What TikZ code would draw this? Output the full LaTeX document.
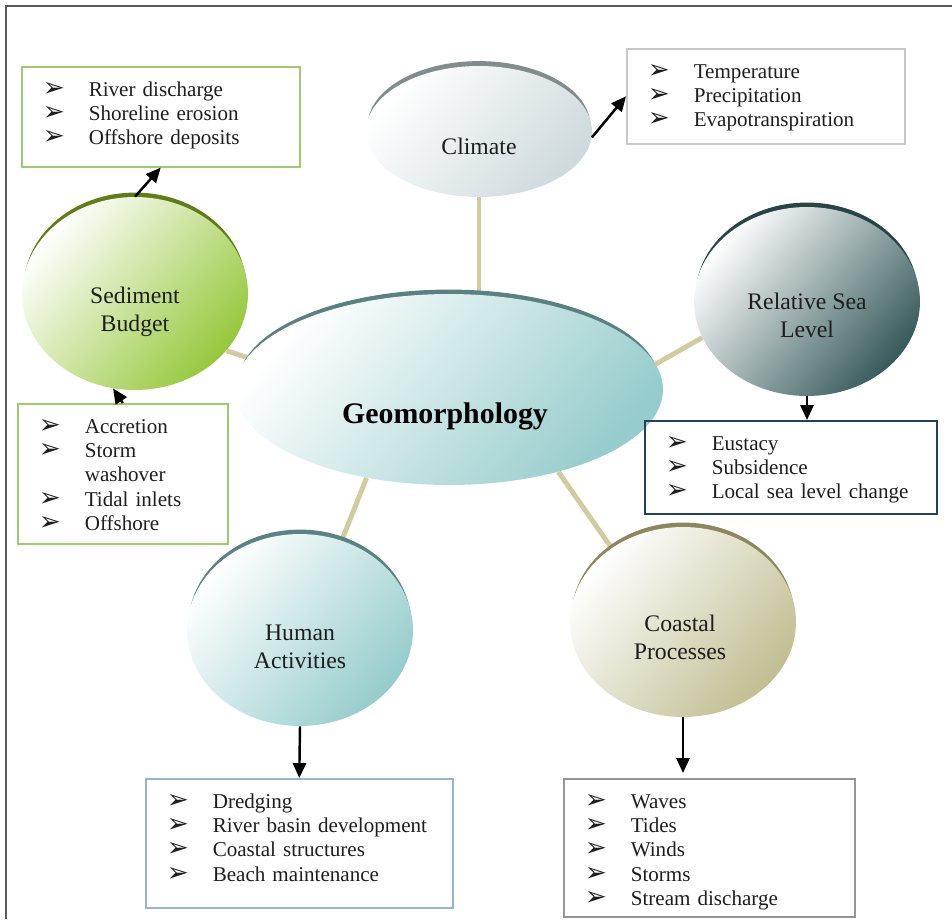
\documentclass[tikz,border=0pt]{standalone}
\usepackage{fontspec}
\setmainfont{Liberation Serif}
\newfontfamily\symfont{DejaVu Sans}
\usepackage{xcolor}
\usepackage{tikz}
\usetikzlibrary{arrows.meta,positioning,calc,shapes.geometric,shadows,backgrounds}
\definecolor{gmtext}{RGB}{30,30,30}
\definecolor{gmframe}{RGB}{90,90,90}
\definecolor{gmspoke}{RGB}{207,204,157}
\definecolor{gmgreen}{RGB}{155,205,110}
\definecolor{gmsilver}{RGB}{200,200,200}
\definecolor{gmnavy}{RGB}{36,63,96}
\definecolor{gmsky}{RGB}{149,179,215}
\definecolor{gmgray}{RGB}{150,150,150}
\definecolor{climfill}{RGB}{206,218,221}
\definecolor{climrim}{RGB}{130,140,140}
\definecolor{sedfill}{RGB}{150,200,60}
\definecolor{sedrim}{RGB}{95,125,20}
\definecolor{geofill}{RGB}{150,204,204}
\definecolor{georim}{RGB}{90,128,128}
\definecolor{rslfill}{RGB}{55,90,90}
\definecolor{rslrim}{RGB}{40,68,68}
\definecolor{humfill}{RGB}{150,204,204}
\definecolor{humrim}{RGB}{90,130,130}
\definecolor{coastfill}{RGB}{192,190,145}
\definecolor{coastrim}{RGB}{140,135,95}
\newcommand{\bul}{\makebox[0.92cm][l]{\symfont\fontsize{15}{12}\selectfont ➢}}
\newcommand{\nobul}{\hspace*{0.92cm}}
\tikzset{
  bub/.style 2 args={ellipse, inner sep=0pt, top color=white, bottom color=#1, shading angle=50,
    general shadow={fill=#2, shadow yshift=3.4pt, shadow scale=0.985}},
  bubtext/.style={font=\fontsize{13.5}{16}\selectfont, text=gmtext, align=center},
  listbox/.style={draw=#1, line width=0.9pt, anchor=north west, inner xsep=0.42cm, inner ysep=0pt,
    align=left, text height=0.6cm, text=gmtext, font=\fontsize{12}{13.7}\selectfont},
  spoke/.style={gmspoke, line width=2.8pt},
  arr/.style={-{Triangle[length=8.5pt,width=7.5pt]}, line width=1.4pt, black},
  frame/.style={gmframe, line width=1.2pt},
}
\begin{document}
\begin{tikzpicture}[x=0.02cm, y=-0.02cm]
  \useasboundingbox (0,0) rectangle (952,919);
  \draw[frame] (6,919) -- (6,6) -- (952,6);
  % bubbles
  \node[bub={geofill}{georim}, minimum width=8.56cm, minimum height=3.82cm,
    label={[bubtext, font=\fontsize{17}{20}\selectfont\bfseries, text=black, xshift=-0.08cm, yshift=-0.53cm]center:Geomorphology}] (geo) at (449,389.5) {};
  \node[bub={climfill}{climrim}, minimum width=4.52cm, minimum height=2.62cm,
    label={[bubtext, yshift=-0.29cm]center:Climate}] (clim) at (479,131.5) {};
  \node[bub={sedfill}{sedrim}, minimum width=4.52cm, minimum height=3.86cm,
    label={[bubtext, yshift=-0.36cm]center:Sediment\\Budget}] (sed) at (135,293.5) {};
  \node[bub={rslfill}{rslrim}, minimum width=4.52cm, minimum height=3.78cm,
    label={[bubtext, yshift=-0.28cm]center:Relative Sea\\Level}] (rsl) at (807,301.5) {};
  \node[bub={humfill}{humrim}, minimum width=4.52cm, minimum height=3.84cm,
    label={[bubtext, yshift=-0.34cm]center:Human\\Activities}] (hum) at (300,630) {};
  \node[bub={coastfill}{coastrim}, minimum width=4.52cm, minimum height=3.8cm,
    label={[bubtext, xshift=-0.06cm, yshift=-0.3cm]center:Coastal\\Processes}] (coast) at (683,622) {};
  % lists
  \node[listbox=gmgreen, text width=4.72cm, text depth=1.4cm] (sedtop) at (21,66)
    {\bul River discharge\\\bul Shoreline erosion\\\bul Offshore deposits};
  \node[listbox=gmgreen, text width=3.36cm, text depth=2.2cm] (accbox) at (17,403)
    {\bul Accretion\\\bul Storm\\\nobul washover\\\bul Tidal inlets\\\bul Offshore};
  \node[listbox=gmsilver, text width=4.72cm, text depth=1.3cm] (climbox) at (626,48)
    {\bul Temperature\\\bul Precipitation\\\bul Evapotranspiration};
  \node[listbox=gmnavy, text width=5.0cm, text depth=1.26cm] (rslbox) at (644,420)
    {\bul Eustacy\\\bul Subsidence\\\bul Local sea level change};
  \node[listbox=gmsky, text width=5.3cm, text depth=1.98cm] (humbox) at (145,778)
    {\bul Dredging\\\bul River basin development\\\bul Coastal structures\\\bul Beach maintenance};
  \node[listbox=gmgray, text width=4.98cm, text depth=2.16cm] (coastbox) at (563,778)
    {\bul Waves\\\bul Tides\\\bul Winds\\\bul Storms\\\bul Stream discharge};
  % spokes
  \begin{pgfonlayer}{background}
    \draw[spoke] (clim.south) -- (clim.south |- geo.north);
    \draw[spoke] (sed.-32) -- (geo.171);
    \draw[spoke] (rsl.199) -- (geo.7);
    \draw[spoke] (hum.65) -- (geo.227);
    \draw[spoke] (coast.134) -- (geo.-37);
  \end{pgfonlayer}
  % arrows
  \draw[arr] (clim.-3) -- (climbox.west);
  \draw[arr] (sed.north) -- (sedtop.south);
  \draw[arr] (accbox.north) -- (sed.257);
  \draw[arr] (rsl.south) -- (rsl.south |- rslbox.north);
  \draw[arr] (hum.south) -- (humbox.north);
  \draw[arr] (coast.south) -- ($(coast.south |- coastbox.north)+(0,-5)$);
\end{tikzpicture}
\end{document}
